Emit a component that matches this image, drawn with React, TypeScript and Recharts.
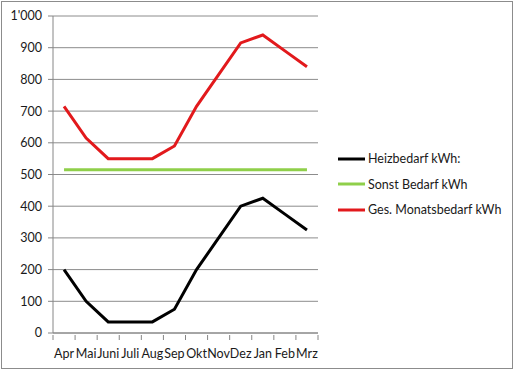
import { LineChart, Line, XAxis, YAxis, CartesianGrid } from 'recharts';

const months = ['Apr', 'Mai', 'Juni', 'Juli', 'Aug', 'Sep', 'Okt', 'Nov', 'Dez', 'Jan', 'Feb', 'Mrz'];
const heizbedarf = [200, 100, 35, 35, 35, 75, 200, 300, 400, 425, 375, 325];
const sonstBedarf = [515, 515, 515, 515, 515, 515, 515, 515, 515, 515, 515, 515];
const gesBedarf = [715, 615, 550, 550, 550, 590, 715, 815, 915, 940, 890, 840];
const yTicks = [0, 100, 200, 300, 400, 500, 600, 700, 800, 900, 1000];

const data = months.map((m, i) => ({
  month: m,
  heiz: heizbedarf[i],
  sonst: sonstBedarf[i],
  ges: gesBedarf[i],
}));

const series = [
  { key: 'heiz', name: 'Heizbedarf kWh:', color: '#000000' },
  { key: 'sonst', name: 'Sonst Bedarf kWh', color: '#8fcf4a' },
  { key: 'ges', name: 'Ges. Monatsbedarf kWh', color: '#e2191c' },
];

const FONT = 'Lato, sans-serif';
const BAND = 265 / 12;

function MonthTick(props: any) {
  const { x, y, payload, index } = props;
  const last = index === months.length - 1;
  return (
    <g>
      <line x1={x - BAND / 2} y1={y} x2={x - BAND / 2} y2={y + 5} stroke="#868686" />
      {last && <line x1={x + BAND / 2} y1={y} x2={x + BAND / 2} y2={y + 5} stroke="#868686" />}
      <text x={x} y={y + 23} textAnchor="middle" fill="#1a1a1a" fontSize={12.5} fontFamily={FONT}>
        {payload.value}
      </text>
    </g>
  );
}

function LegendBox() {
  return (
    <div style={{ fontFamily: FONT, fontSize: 12.5, color: '#1a1a1a' }}>
      {series.map((s) => (
        <div key={s.key} style={{ display: 'flex', alignItems: 'center', height: 25.5 }}>
          <svg width={27} height={6} style={{ marginRight: 3 }}>
            <line x1={0} y1={3} x2={27} y2={3} stroke={s.color} strokeWidth={3} />
          </svg>
          <span style={{ whiteSpace: 'nowrap' }}>{s.name}</span>
        </div>
      ))}
    </div>
  );
}

export default function App() {
  return (
    <div
      style={{
        position: 'fixed',
        left: 0,
        top: 0,
        width: 514,
        height: 370,
        background: '#fff',
      }}
    >
      <div
        style={{
          position: 'absolute',
          left: 1,
          top: 1,
          width: 510,
          height: 366,
          border: '1px solid #8c8c8c',
        }}
      />
      <LineChart
        width={514}
        height={370}
        data={data}
        margin={{ top: 16, right: 196, left: 0, bottom: 7 }}
      >
        <CartesianGrid vertical={false} stroke="#8c8c8c" strokeWidth={1} />
        <XAxis
          dataKey="month"
          padding={{ left: BAND / 2, right: BAND / 2 }}
          axisLine={{ stroke: '#868686' }}
          tickLine={false}
          tickSize={0}
          tick={<MonthTick />}
          interval={0}
          height={30}
        />
        <YAxis
          domain={[0, 1000]}
          ticks={yTicks}
          width={53}
          axisLine={{ stroke: '#868686' }}
          tickLine={{ stroke: '#868686' }}
          tickSize={5}
          tickMargin={6}
          tick={{ fill: '#1a1a1a', fontSize: 12.5, fontFamily: FONT }}
          tickFormatter={(v: number) => (v === 1000 ? "1'000" : String(v))}
        />
        {series.map((s) => (
          <Line
            key={s.key}
            type="linear"
            dataKey={s.key}
            name={s.name}
            stroke={s.color}
            strokeWidth={3}
            dot={false}
            isAnimationActive={false}
          />
        ))}
      </LineChart>
      <div style={{ position: 'absolute', left: 338, top: 146 }}>
        <LegendBox />
      </div>
    </div>
  );
}
